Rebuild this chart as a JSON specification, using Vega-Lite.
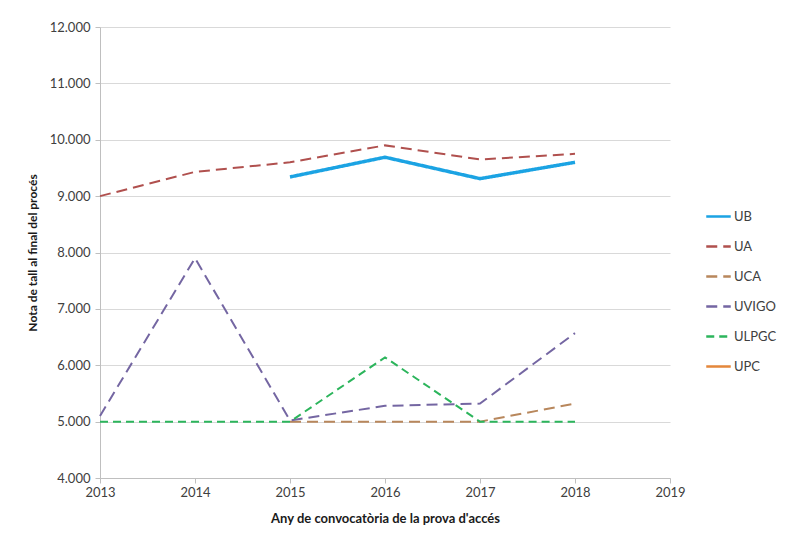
{
  "$schema": "https://vega.github.io/schema/vega-lite/v6.json",
  "autosize": {"type": "none"},
  "width": 570,
  "height": 451,
  "padding": {"left": 100, "top": 27, "right": 123, "bottom": 59},
  "background": "white",
  "config": {
    "font": "Lato",
    "view": {"stroke": null},
    "axis": {"labelFont": "Lato", "titleFont": "Lato", "labelColor": "#404040", "titleColor": "#1a1a1a"}
  },
  "data": {
    "values": [
      {"year": 2015, "series": "UB", "value": 9.34},
      {"year": 2016, "series": "UB", "value": 9.69},
      {"year": 2017, "series": "UB", "value": 9.31},
      {"year": 2018, "series": "UB", "value": 9.60},
      {"year": 2013, "series": "UA", "value": 9.0},
      {"year": 2014, "series": "UA", "value": 9.43},
      {"year": 2015, "series": "UA", "value": 9.60},
      {"year": 2016, "series": "UA", "value": 9.90},
      {"year": 2017, "series": "UA", "value": 9.65},
      {"year": 2018, "series": "UA", "value": 9.75},
      {"year": 2015, "series": "UCA", "value": 5.0},
      {"year": 2016, "series": "UCA", "value": 5.0},
      {"year": 2017, "series": "UCA", "value": 5.0},
      {"year": 2018, "series": "UCA", "value": 5.32},
      {"year": 2013, "series": "UVIGO", "value": 5.1},
      {"year": 2014, "series": "UVIGO", "value": 7.9},
      {"year": 2015, "series": "UVIGO", "value": 5.02},
      {"year": 2016, "series": "UVIGO", "value": 5.28},
      {"year": 2017, "series": "UVIGO", "value": 5.32},
      {"year": 2018, "series": "UVIGO", "value": 6.57},
      {"year": 2013, "series": "ULPGC", "value": 5.0},
      {"year": 2014, "series": "ULPGC", "value": 5.0},
      {"year": 2015, "series": "ULPGC", "value": 5.0},
      {"year": 2016, "series": "ULPGC", "value": 6.14},
      {"year": 2017, "series": "ULPGC", "value": 5.0},
      {"year": 2018, "series": "ULPGC", "value": 5.0}
    ]
  },
  "mark": {"type": "line"},
  "encoding": {
    "x": {
      "field": "year", "type": "quantitative",
      "scale": {"domain": [2013, 2019], "nice": false, "zero": false},
      "axis": {
        "title": "Any de convocatòria de la prova d'accés",
        "values": [2013, 2014, 2015, 2016, 2017, 2018, 2019],
        "format": "d", "grid": false, "labelFlush": false,
        "domainColor": "#BFBFBF", "tickColor": "#BFBFBF", "tickSize": 5,
        "labelFontSize": 13, "labelPadding": 3,
        "titleFontSize": 13, "titleFontWeight": "bold", "titlePadding": 13
      }
    },
    "y": {
      "field": "value", "type": "quantitative",
      "scale": {"domain": [4, 12], "nice": false, "zero": false},
      "axis": {
        "title": "Nota de tall al final del procés",
        "values": [4, 5, 6, 7, 8, 9, 10, 11, 12],
        "format": ".3f", "labelFlush": false,
        "gridColor": "#D9D9D9", "domainColor": "#BFBFBF", "tickColor": "#BFBFBF", "tickSize": 5,
        "labelFontSize": 13, "labelPadding": 5,
        "titleFontSize": 12, "titleFontWeight": "bold", "titlePadding": 10
      }
    },
    "color": {
      "field": "series", "type": "nominal",
      "scale": {
        "domain": ["UB", "UA", "UCA", "UVIGO", "ULPGC", "UPC"],
        "range": ["#1BA3E3", "#B0504E", "#B8875C", "#7466A2", "#2CB55C", "#E4873B"]
      },
      "legend": {
        "title": null, "orient": "none", "legendX": 605, "legendY": 176,
        "symbolType": "stroke", "symbolSize": 600, "symbolStrokeWidth": 2.5,
        "labelFontSize": 13, "labelColor": "#404040", "rowPadding": 9, "labelOffset": 2
      }
    },
    "strokeDash": {
      "field": "series", "type": "nominal",
      "scale": {
        "domain": ["UB", "UA", "UCA", "UVIGO", "ULPGC", "UPC"],
        "range": [[1, 0], [11, 6], [11, 6], [11, 6], [8, 5], [1, 0]]
      }
    },
    "strokeWidth": {
      "condition": {"test": "datum.series === 'UB'", "value": 3.5},
      "value": 2
    },
    "order": {"field": "year"}
  }
}
